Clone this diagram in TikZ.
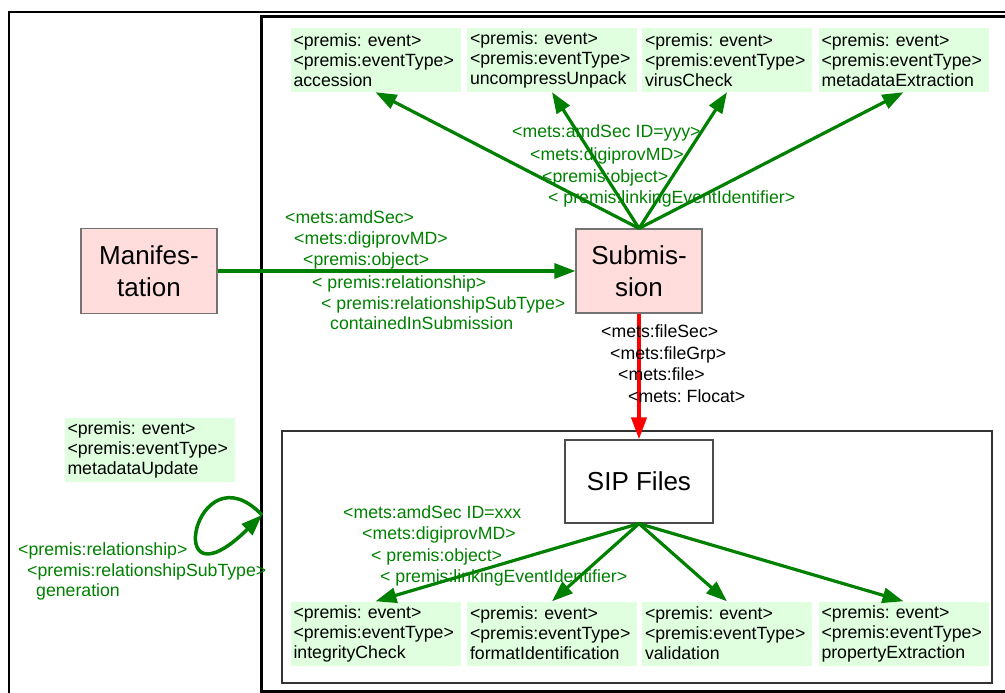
\documentclass[tikz,border=0pt]{standalone}
\usepackage{fontspec}
\setmainfont{Liberation Sans}
\usetikzlibrary{arrows.meta}
\frenchspacing

\definecolor{metsgreen}{RGB}{0,128,0}
\definecolor{eventfill}{RGB}{223,255,223}
\definecolor{objfill}{RGB}{255,221,221}

\tikzset{
	evbox/.style = {fill = eventfill, text width = 164pt, inner xsep = 3pt, minimum height = 64pt, align = left, font = \fontsize{17.7}{20}\selectfont},
	objbox/.style = {fill = objfill, draw = black!55, line width = 1.2pt, align = center, font = \fontsize{26}{32}\selectfont},
	xmltag/.style = {anchor = base west, inner sep = 0pt, font = \fontsize{17.7}{20}\selectfont},
	provlink/.style = {metsgreen, line width = 3.2pt, -{Triangle[length = 21pt, width = 15pt]}},
}

\begin{document}
\begin{tikzpicture}[x = 1pt, y = -1pt]
		\useasboundingbox (0,0) rectangle (1005,693);
		\clip (0,0) rectangle (1005,693);
		% outer and inner frames, SIP container
		\draw [line width = 2pt] (9,700) -- (9,12) -- (1010,12);
		\draw [line width = 3pt] (1010,17) -- (261,17) -- (261,691) -- (1010,691);
		\draw [line width = 1.2pt, black!80] (282,431) rectangle (992,683);

		\node [objbox, minimum width = 136pt, minimum height = 85pt] (manif) at (149,271) {Manifes-\\tation};
		\node [objbox, minimum width = 126pt, minimum height = 84pt] (subm) at (639,271) {Submis-\\sion};
		\node [draw = black!70, fill = white, line width = 1.2pt, minimum width = 148pt, minimum height = 83pt, font = \fontsize{26}{32}\selectfont] (sipf) at (639,481.5) {SIP Files};

		\foreach \name/\x/\what in {accession/375.5/accession, unpack/552/uncompressUnpack, virus/727/virusCheck, mdextract/903.5/metadataExtraction}
			\node [evbox] (\name) at (\x,60) {<premis: event>\\<premis:eventType>\\\what};
		\foreach \name/\x/\what in {integrity/375.5/integrityCheck, fmtid/552/formatIdentification, valid/727/validation, propextract/903.5/propertyExtraction}
			\node [evbox] (\name) at (\x,633.5) {<premis: event>\\<premis:eventType>\\\what};
		\node [evbox] (mdupdate) at (149.5,450) {<premis: event>\\<premis:eventType>\\metadataUpdate};

		\draw [provlink] (manif.east) -- (subm.west);
		\foreach \name in {accession, unpack, virus, mdextract}
			\draw [provlink] (subm.north) -- (\name.south);
		\foreach \name in {integrity, fmtid, valid, propextract}
			\draw [provlink] (sipf.south) -- (\name.north);
		\draw [red, line width = 4pt, -{Triangle[length = 22pt, width = 15pt]}] (subm.south) -- (sipf.north);

		% metadataUpdate loop on the inner frame
		\coordinate (selfref) at (262,515);
		\draw [provlink, line width = 3.5pt] (selfref) .. controls (195,445) and (160,615) .. (selfref);

		\foreach \x/\y/\txt [count = \i] in {512/138/{<mets:amdSec ID=yyy>}, 530/160/{<mets:digiprovMD>}, 542/182/{<premis:object>}, 548/203/{< premis:linkingEventIdentifier>}}
			\node [xmltag, metsgreen] (amdyyy\i) at (\x,\y) {\txt};
		\foreach \x/\y/\txt [count = \i] in {285/223/{<mets:amdSec>}, 294/244/{<mets:digiprovMD>}, 303/265/{<premis:object>}, 312/288/{< premis:relationship>}, 321/309/{< premis:relationshipSubType>}, 330/329/{containedInSubmission}}
			\node [xmltag, metsgreen] (amdsec\i) at (\x,\y) {\txt};
		\foreach \x/\y/\txt [count = \i] in {601/337/{<mets:fileSec>}, 610/359/{<mets:fileGrp>}, 618/380/{<mets:file>}, 628/402/{<mets: Flocat>}}
			\node [xmltag] (filesec\i) at (\x,\y) {\txt};
		\foreach \x/\y/\txt [count = \i] in {343/518/{<mets:amdSec ID=xxx}, 362/539/{<mets:digiprovMD>}, 371/561/{< premis:object>}, 380/582/{< premis:linkingEventIdentifier>}}
			\node [xmltag, metsgreen] (amdxxx\i) at (\x,\y) {\txt};
		\foreach \x/\y/\txt [count = \i] in {18/555/{<premis:relationship>}, 27/576/{<premis:relationshipSubType>}, 36/596/{generation}}
			\node [xmltag, metsgreen] (relgen\i) at (\x,\y) {\txt};
		%\draw [gray] (0,0) grid [step = 100] (1005,693);
	\end{tikzpicture}
\end{document}
